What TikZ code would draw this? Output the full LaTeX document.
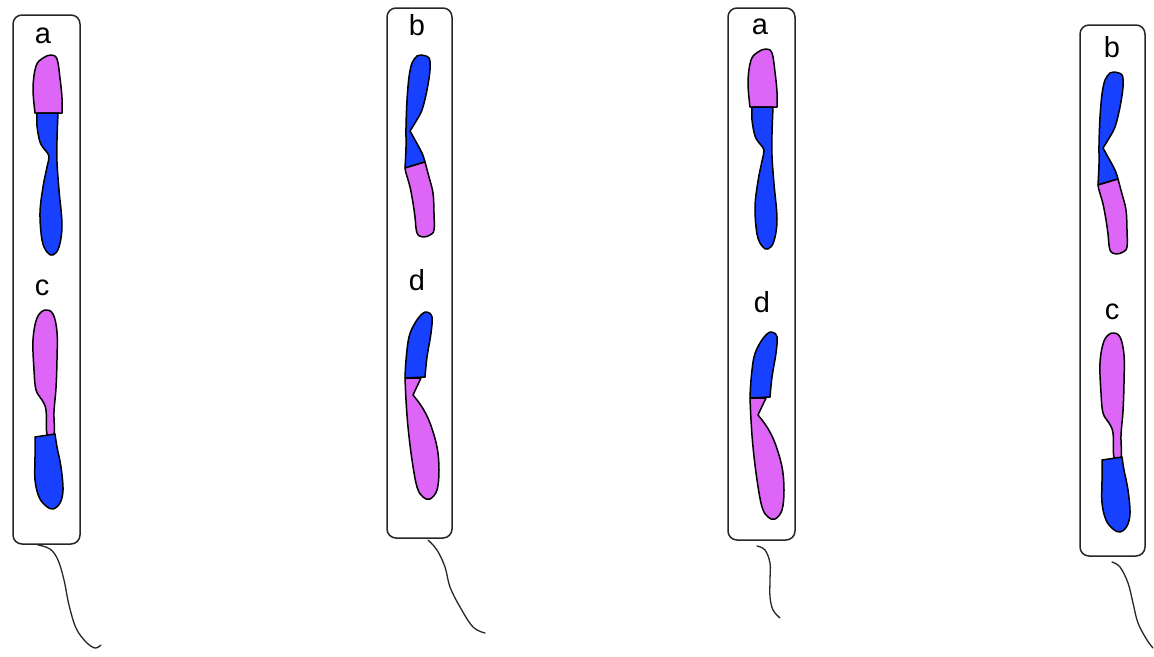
\documentclass[tikz,border=0pt]{standalone}
\usepackage{fontspec}
\setmainfont{Liberation Sans}
\definecolor{armpink}{RGB}{221,102,246}
\definecolor{armblue}{RGB}{24,64,255}
\tikzset{
  cellbox/.style={draw=black!85, line width=1.5pt, rounded corners=9pt, inner sep=0pt},
  chrom/.style={draw=black, line width=1.5pt, line join=round},
  tailline/.style={draw=black!85, line width=1.3pt, line cap=round},
  lbl/.style={inner sep=0pt, font=\fontsize{29}{30}\selectfont}
}
% chromosome a: pink short arm on top, long blue arm below
\newcommand\drawChromA{%
  \draw[chrom, fill=armpink] (35,113) -- plot[smooth, tension=0.6] coordinates
    {(35,113) (33,88) (36,66) (43,58) (51,55) (57,59) (60,78) (62,98) (62,113)} -- cycle;
  \draw[chrom, fill=armblue] (37,113) -- (58,113) -- plot[smooth, tension=0.6] coordinates
    {(58,113) (57,140) (57,162) (59,190) (62,225) (59,247) (53,255) (47,252) (42,240)
     (40,213) (43,187) (47,167) (49,156) (45,150) (40,142) (37,126) (37,113)} -- cycle;
}
% chromosome b: blue upper part, pink lower part
\newcommand\drawChromB{%
  \draw[chrom, fill=armblue] (405,168) -- plot[smooth, tension=0.55] coordinates
    {(405,168) (406,147) (406,127) (407,100) (409,77) (412,63) (417,56) (421,55) (429,58)
     (430,70) (427,90) (422,110) (415,123) (410,131)} -- plot[smooth, tension=0.5] coordinates
    {(410,131) (415,140) (422,153) (425,162)} -- cycle;
  \draw[chrom, fill=armpink] (405,168) -- (425,162) -- plot[smooth, tension=0.6] coordinates
    {(425,162) (429,177) (433,193) (434,213) (434,230) (430,235) (423,237) (417,233)
     (415,217) (413,203) (410,187) (406,173) (405,168)} -- cycle;
}
% chromosome c: pink long arm on top, blue arm below
\newcommand\drawChromC{%
  \draw[chrom, fill=armpink] plot[smooth cycle, tension=0.6] coordinates
    {(54,434) (54,412) (56,388) (57,360) (57,332) (53,314) (45,310) (37,318) (33,340)
     (34,370) (36,390) (42,400) (46,410) (47,434)};
  \draw[chrom, fill=armblue] (35,437) -- (55,434) -- plot[smooth, tension=0.6] coordinates
    {(55,434) (57,447) (61,467) (63,490) (60,503) (53,509) (46,506) (39,497) (35,480)
     (35,457) (35,437)} -- cycle;
}
% chromosome d: blue short arm on top, pink long arm below
\newcommand\drawChromD{%
  \draw[chrom, fill=armpink] (405,378) -- (421,378) -- (413,395) -- plot[smooth, tension=0.6] coordinates
    {(413,395) (422,407) (430,423) (437,447) (439,470) (437,490) (430,499) (423,497)
     (417,487) (412,460) (408,427) (406,400) (405,378)} -- cycle;
  \draw[chrom, fill=armblue] (405,378) -- plot[smooth, tension=0.6] coordinates
    {(405,378) (406,360) (409,337) (415,323) (422,314) (427,312) (432,317) (431,333)
     (427,357) (425,377)} -- cycle;
}
\begin{document}
\begin{tikzpicture}[x=1pt, y=-1pt]
  \useasboundingbox (0,0) rectangle (1154,656);

  % cell bodies
  \node[cellbox, minimum width=67pt, minimum height=529pt] (cell1) at (46.5,279.5) {};
  \node[cellbox, minimum width=65pt, minimum height=530pt] (cell2) at (419.5,273) {};
  \node[cellbox, minimum width=67pt, minimum height=532pt] (cell3) at (761.5,274) {};
  \node[cellbox, minimum width=65pt, minimum height=531pt] (cell4) at (1112.5,290.5) {};

  % labels
  \node[lbl] (la1) at (43,36) {a};
  \node[lbl] (lc1) at (42,288) {c};
  \node[lbl] (lb2) at (417,25) {b};
  \node[lbl] (ld2) at (417,280) {d};
  \node[lbl] (la3) at (760,27) {a};
  \node[lbl] (ld3) at (762,302) {d};
  \node[lbl] (lb4) at (1112,47) {b};
  \node[lbl] (lc4) at (1112,312) {c};

  % chromosomes
  \drawChromA
  \drawChromC
  \drawChromB
  \drawChromD
  \begin{scope}[shift={(715,-6)}]\drawChromA\end{scope}
  \begin{scope}[shift={(345,20)}]\drawChromD\end{scope}
  \begin{scope}[shift={(693,17)}]\drawChromB\end{scope}
  \begin{scope}[shift={(1067,23)}]\drawChromC\end{scope}

  % tails
  \coordinate (t1) at (38,545);
  \coordinate (t2) at (428,540);
  \coordinate (t3) at (757,546);
  \coordinate (t4) at (1112,562);
  \draw[tailline] plot[smooth, tension=0.6] coordinates
    {(t1) (50,549) (58,560) (64,580) (69,605) (76,628) (86,642) (95,648) (101,645)};
  \draw[tailline] plot[smooth, tension=0.6] coordinates
    {(t2) (437,550) (445,567) (450,587) (460,607) (473,627) (485,633)};
  \draw[tailline] plot[smooth, tension=0.6] coordinates
    {(t3) (765,550) (770,563) (770,580) (770,597) (773,610) (780,618)};
  \draw[tailline] plot[smooth, tension=0.6] coordinates
    {(t4) (1120,567) (1128,583) (1133,603) (1138,623) (1147,640) (1153,648)};
\end{tikzpicture}
\end{document}
